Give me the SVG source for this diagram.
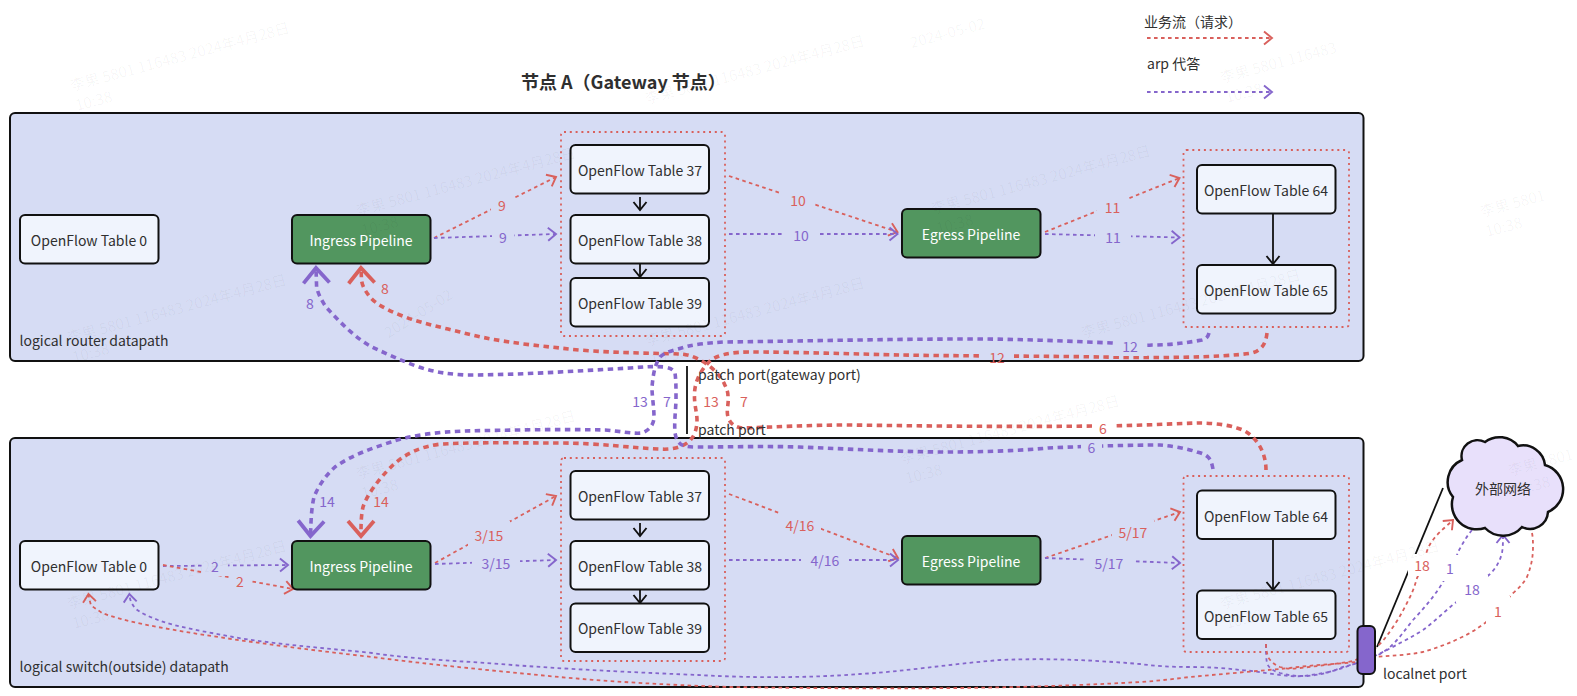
<svg xmlns="http://www.w3.org/2000/svg" width="1577" height="696" viewBox="0 0 1577 696">
<style>
text{font-family:"Noto Sans CJK SC","Noto Sans",sans-serif;font-size:14px;fill:#2f2f2f;dominant-baseline:central}
.m{text-anchor:middle}
.title{font-size:18px;font-weight:700}
.container{fill:#d6dcf4;stroke:#111;stroke-width:2}
.group{fill:none;stroke:#d9605c;stroke-width:1.8;stroke-dasharray:2 3.8}
.node rect{fill:#f0f4fd;stroke:#111;stroke-width:2}
.green rect{fill:#52965f}
.green text{fill:#fff}
.c{fill:none;stroke-linejoin:round}
.r{stroke:#d9605c}.p{stroke:#8566cc}
.thin{stroke-width:1.8;stroke-dasharray:3.6 3.4}
.thick{stroke-width:3.600;stroke-dasharray:5.500 4.500}
.rt{marker-end:url(#ar)}.pt{marker-end:url(#ap)}
.rT{marker-end:url(#aR)}.pT{marker-end:url(#aP)}
.k{fill:none;stroke:#111;stroke-width:1.8}
.ka{marker-end:url(#ak)}
.lr{fill:#d9605c}.lp{fill:#8566cc}
.bb{fill:#d6dcf4}.bw{fill:#fff}
.wm text{fill:#000;fill-opacity:.04;font-size:15px}
</style>
<defs>
<marker id="ar" markerUnits="userSpaceOnUse" markerWidth="14" markerHeight="16" refX="11" refY="8" orient="auto"><path d="M3 1.5L11 8L3 14.500" fill="none" stroke="#d9605c" stroke-width="1.9"/></marker>
<marker id="ap" markerUnits="userSpaceOnUse" markerWidth="14" markerHeight="16" refX="11" refY="8" orient="auto"><path d="M3 1.5L11 8L3 14.500" fill="none" stroke="#8566cc" stroke-width="1.9"/></marker>
<marker id="ak" markerUnits="userSpaceOnUse" markerWidth="14" markerHeight="16" refX="11" refY="8" orient="auto"><path d="M3 1.5L11 8L3 14.500" fill="none" stroke="#111" stroke-width="1.9"/></marker>
<marker id="aR" markerUnits="userSpaceOnUse" markerWidth="24" markerHeight="32" refX="20" refY="16" orient="auto"><path d="M5 3L20 16L5 29" fill="none" stroke="#d9605c" stroke-width="3.800"/></marker>
<marker id="aP" markerUnits="userSpaceOnUse" markerWidth="24" markerHeight="32" refX="20" refY="16" orient="auto"><path d="M5 3L20 16L5 29" fill="none" stroke="#8566cc" stroke-width="3.800"/></marker>
</defs>

<text id="title" class="title" x="521" y="80.500">节点 A（Gateway 节点）</text>
<g id="legend">
<text x="1144" y="21">业务流（请求）</text>
<path class="c r thin rt" d="M1147 38H1272"/>
<text x="1147" y="63">arp 代答</text>
<path class="c p thin pt" d="M1147 92H1272"/>
</g>

<g id="logical-router">
<rect class="container" x="10" y="113" width="1353.500" height="248" rx="5"/>
<text x="19.500" y="340">logical router datapath</text>
<rect class="group" x="561" y="132" width="164" height="204" rx="3"/>
<rect class="group" x="1183.500" y="150" width="165.500" height="177" rx="3"/>
</g>
<g id="logical-switch">
<rect class="container" x="10" y="438" width="1353.500" height="249" rx="5"/>
<text x="19.500" y="666">logical switch(outside) datapath</text>
<rect class="group" x="561" y="458" width="164" height="203" rx="3"/>
<rect class="group" x="1183.500" y="476" width="165.500" height="176" rx="3"/>
</g>

<g id="connectors">
<path class="c r thin rt" d="M434 238L556 177"/>
<path class="c p thin pt" d="M434 238L556 234"/>
<path class="c r thin rt" d="M729 176L897.500 232"/>
<path class="c p thin pt" d="M729 234H897.500"/>
<path class="c r thin rt" d="M1045 232L1179.500 178"/>
<path class="c p thin pt" d="M1045 234L1179.500 237.500"/>
<path class="k ka" d="M640 197V210"/>
<path class="k ka" d="M640 264V277"/>
<path class="k ka" d="M1273 213V264"/>
<path class="c r thick rT" d="M1267 333 C1266 342 1263 350 1252 353 C1220 358 1150 358 1100 357 C1050 356 950 356 900 355 C860 354 790 352 750 352 C730 352 716 355 709 362 C700 371 695 382 694.500 393 C694 405 697 412 697 420 C697 428 695 434 692 438 C686 447 672 450 660 449 C630 448 600 443 559 443 C520 443 480 442 442 444 C420 446 403 455 391 467 C378 480 367 495 363 507 C361 516 361 525 361 536"/>
<path class="c r thick rT" d="M1266 470 C1266 460 1263 450 1257 442 C1252 435 1245 430 1237 428 C1225 424 1210 423 1197 423 C1165 424 1130 426 1097 426 C1010 427 930 426 849 425 C810 425 775 427 744 428 C736 428 730 424 728 417 C726 410 729 404 728 397 C728 390 726 388 724 383 C720 375 710 365 700 360 C693 356 686 354 680 354 C650 353 600 353 560 348 C520 344 490 340 460 332 C440 327 420 323 400 315 C385 309 375 303 370 297 C365 291 362 285 361.500 280 L361 268"/>
<path class="c p thick pT" d="M1209 333 C1208 337 1206 339 1202 340 C1185 343 1170 345 1152 345 C1140 346 1125 344 1112 343 C1065 341 1020 339 973 339 C890 339 810 341 724 342 C708 343 696 344 685 347 C674 350 665 352 660 357 C654 366 653 377 652 387 C652 397 654 407 654 417 C654 424 650 430 642 433 C632 434 620 431 605 430 C560 429 510 430 465 431 C438 432 412 435 391 442 C370 449 350 456 335 467 C325 476 318 487 314 497 C311 510 311 524 310.500 536"/>
<path class="c p thick pT" d="M1213 469 C1212 464 1211 460 1208 457 C1205 454 1201 453 1197 452 C1185 448 1172 446 1160 445 C1135 445 1090 446 1048 448 C1015 451 980 452 948 452 C898 452 850 449 799 447 C765 446 732 447 699 447 C692 447 686 447 682 445 C677 442 676 438 675 433 C674 420 676 410 676 397 C676 388 676 380 675 373 C673 369 670 368 665 367 C652 366 642 367 630 368 C575 371 520 375 465 375 C448 374 433 372 419 367 C402 361 387 354 372 347 C355 338 340 322 326 307 C322 301 318 294 316.600 287 L316 268"/>
<path class="k" d="M687 366V434"/>
<path class="c p thin pt" d="M163 566L288 565"/>
<path class="c r thin rt" d="M163 565L293 589"/>
<path class="c r thin rt" d="M435 563L556 496"/>
<path class="c p thin pt" d="M435 564L556 560"/>
<path class="c r thin rt" d="M729 494L898 558"/>
<path class="c p thin pt" d="M729 560H898"/>
<path class="c r thin rt" d="M1045 558L1180 512"/>
<path class="c p thin pt" d="M1045 558L1180 563"/>
<path class="k ka" d="M640 523V536"/>
<path class="k ka" d="M640 590V603"/>
<path class="k ka" d="M1273 539V590"/>
<path class="k" d="M1377 647L1443 488"/>
<path class="c p thin pt" d="M1472 530 C1466 537 1462 545 1458 552 C1455 562 1449 572 1443 582 C1434 597 1424 608 1413 620 C1405 630 1398 640 1390 647 C1384 652 1379 655 1373 657 C1367 659 1362 661 1357 663 C1345 667 1333 672 1323 673 C1312 675 1300 677 1290 676 C1275 675 1258 671 1240 670 C1225 668 1208 667 1190 667 C1170 667 1155 666 1140 664 C1090 660 1050 658 1000 660 C950 664 900 672 860 674 C810 678 750 678 698 675 C650 673 580 670 512 665 C465 661 420 660 372 653 C325 648 280 645 233 637 C208 632 180 628 158 620 C148 616 140 613 135 608 C131 603 130 600 129.400 594"/>
<path class="c p thin pt" d="M1266 644 C1266 652 1266 658 1267 663 C1269 669 1274 671 1280 673 C1290 676 1298 676 1307 676 C1320 675 1331 672 1340 668 C1346 666 1351 665 1357 663 C1364 660 1371 658 1377 655 C1385 651 1393 647 1400 643 C1408 639 1415 635 1423 630 C1434 622 1444 612 1455 603 C1462 598 1467 593 1472 589 C1478 584 1484 579 1490 574 C1496 568 1500 561 1502 553 C1503 547 1503 541 1503 535"/>
<path class="c r thin rt" d="M1266 644 C1266 649 1267 653 1268 657 C1271 662 1275 665 1280 667 C1287 669 1293 669 1300 668 C1318 666 1336 664 1353 661 C1361 658 1367 654 1373 650 C1381 644 1387 636 1393 627 C1400 617 1405 607 1410 597 C1413 591 1415 585 1417 578 C1419 574 1421 569 1422 565 C1424 559 1426 554 1428 548 C1431 542 1435 537 1440 532 C1444 528 1449 524 1453 520"/>
<path class="c r thin rt" d="M1532 533 C1533 538 1533 542 1533 547 C1533 558 1531 567 1527 577 C1523 584 1518 589 1512 594 C1507 600 1503 605 1498 611 C1494 615 1490 619 1485 623 C1477 629 1469 634 1460 638 C1448 644 1436 648 1423 652 C1407 655 1390 656 1373 657 C1367 659 1362 660 1357 662 C1335 664 1312 665 1290 668 C1257 671 1223 674 1190 677 C1173 679 1157 681 1140 682 C1000 690 865 689 730 687 C670 685 615 682 559 677 C497 671 434 665 372 657 C310 650 248 642 186 632 C157 627 127 622 102 613 C98 610 94 608 91 605 C90 602 89 598 88.500 594"/>
</g>

<g id="connector-labels">
<rect class="bb" x="491" y="193" width="22" height="24"/><text class="m lr" x="502" y="205">9</text>
<rect class="bb" x="492" y="227" width="22" height="20"/><text class="m lp" x="503" y="237">9</text>
<rect class="bb" x="782" y="188" width="32" height="24"/><text class="m lr" x="798" y="200">10</text>
<rect class="bb" x="783" y="225" width="36" height="20"/><text class="m lp" x="801" y="235">10</text>
<rect class="bb" x="1097" y="195" width="31" height="24"/><text class="m lr" x="1112.500" y="207">11</text>
<rect class="bb" x="1095" y="227" width="36" height="20"/><text class="m lp" x="1113" y="237">11</text>
<text class="m lp" x="310" y="303">8</text>
<text class="m lr" x="385" y="288">8</text>
<rect class="bb" x="979" y="349" width="35" height="11"/><text class="m lr" x="997" y="357">12</text>
<rect class="bb" x="1113" y="336" width="34" height="20"/><text class="m lp" x="1130" y="346">12</text>
<text class="m lp" x="640" y="401">13</text>
<text class="m lp" x="667" y="401">7</text>
<text class="m lr" x="711" y="401">13</text>
<text class="m lr" x="744" y="401">7</text>
<rect class="bw" x="1092" y="418" width="22" height="19"/><text class="m lr" x="1103" y="428">6</text>
<rect class="bb" x="1081" y="439" width="21" height="18"/><text class="m lp" x="1091.500" y="447">6</text>
<text class="m lp" x="327" y="501">14</text>
<text class="m lr" x="381" y="501">14</text>
<rect class="bb" x="204" y="556" width="24" height="20"/><text class="m lp" x="215" y="566">2</text>
<rect class="bb" x="229" y="569" width="22" height="24"/><text class="m lr" x="240" y="581">2</text>
<rect class="bb" x="468" y="521" width="42" height="28"/><text class="m lr" x="489" y="535">3/15</text>
<rect class="bb" x="472" y="553" width="48" height="20"/><text class="m lp" x="496" y="563">3/15</text>
<rect class="bb" x="779" y="513" width="42" height="24"/><text class="m lr" x="800" y="525">4/16</text>
<rect class="bb" x="801" y="550" width="48" height="20"/><text class="m lp" x="825" y="560">4/16</text>
<rect class="bb" x="1112" y="520" width="42" height="24"/><text class="m lr" x="1133" y="532">5/17</text>
<rect class="bb" x="1085" y="553" width="48" height="20"/><text class="m lp" x="1109" y="563">5/17</text>
<rect class="bw" x="1408" y="554" width="28" height="22"/><text class="m lr" x="1422" y="565">18</text>
<rect class="bw" x="1440" y="555" width="20" height="26"/><text class="m lp" x="1450" y="568">1</text>
<rect class="bw" x="1456" y="575" width="32" height="28"/><text class="m lp" x="1472" y="589">18</text>
<rect class="bw" x="1486" y="596" width="24" height="28"/><text class="m lr" x="1498" y="611">1</text>
</g>

<g id="r-table0" class="node"><rect x="20" y="215" width="138.500" height="48.500" rx="5"/><text class="m" x="89" y="239.500">OpenFlow Table 0</text></g>
<g id="r-ingress" class="node green"><rect x="292" y="215" width="138.500" height="48.500" rx="5"/><text class="m" x="361" y="239.500">Ingress Pipeline</text></g>
<g id="r-table37" class="node"><rect x="570.500" y="145" width="138.500" height="48.500" rx="5"/><text class="m" x="640" y="169.500">OpenFlow Table 37</text></g>
<g id="r-table38" class="node"><rect x="570.500" y="215" width="138.500" height="48.500" rx="5"/><text class="m" x="640" y="239.500">OpenFlow Table 38</text></g>
<g id="r-table39" class="node"><rect x="570.500" y="278" width="138.500" height="48.500" rx="5"/><text class="m" x="640" y="302.500">OpenFlow Table 39</text></g>
<g id="r-egress" class="node green"><rect x="902" y="209" width="138.500" height="48.500" rx="5"/><text class="m" x="971" y="233.500">Egress Pipeline</text></g>
<g id="r-table64" class="node"><rect x="1197" y="165" width="138.500" height="48.500" rx="5"/><text class="m" x="1266" y="190">OpenFlow Table 64</text></g>
<g id="r-table65" class="node"><rect x="1197" y="265" width="138.500" height="48.500" rx="5"/><text class="m" x="1266" y="290">OpenFlow Table 65</text></g>

<g id="s-table0" class="node"><rect x="20" y="541" width="138.500" height="48.500" rx="5"/><text class="m" x="89" y="565.500">OpenFlow Table 0</text></g>
<g id="s-ingress" class="node green"><rect x="292" y="541" width="138.500" height="48.500" rx="5"/><text class="m" x="361" y="565.500">Ingress Pipeline</text></g>
<g id="s-table37" class="node"><rect x="570.500" y="471" width="138.500" height="48.500" rx="5"/><text class="m" x="640" y="495.500">OpenFlow Table 37</text></g>
<g id="s-table38" class="node"><rect x="570.500" y="541" width="138.500" height="48.500" rx="5"/><text class="m" x="640" y="565.500">OpenFlow Table 38</text></g>
<g id="s-table39" class="node"><rect x="570.500" y="603.500" width="138.500" height="48.500" rx="5"/><text class="m" x="640" y="628">OpenFlow Table 39</text></g>
<g id="s-egress" class="node green"><rect x="902" y="536" width="138.500" height="48.500" rx="5"/><text class="m" x="971" y="560.500">Egress Pipeline</text></g>
<g id="s-table64" class="node"><rect x="1197" y="490.500" width="138.500" height="48.500" rx="5"/><text class="m" x="1266" y="515.500">OpenFlow Table 64</text></g>
<g id="s-table65" class="node"><rect x="1197" y="590.500" width="138.500" height="48.500" rx="5"/><text class="m" x="1266" y="615.500">OpenFlow Table 65</text></g>

<g id="patch-labels">
<text x="698" y="374">patch port(gateway port)</text>
<text x="698" y="429">patch port</text>
</g>
<g id="localnet-port"><rect x="1357.500" y="626" width="17.500" height="48" rx="5" fill="#8566cc" stroke="#111" stroke-width="2"/><text x="1383" y="673">localnet port</text></g>
<g id="external-network">
<path d="M1462 460A16 16 0 0 1 1485 442A24 24 0 0 1 1518 446A22 22 0 0 1 1545 465A25 25 0 0 1 1548 512A18 18 0 0 1 1522 527A25 25 0 0 1 1485 528A25 25 0 0 1 1453 497A24 24 0 0 1 1462 460Z" fill="#e8e0fb" stroke="#111" stroke-width="2.500"/>
<text class="m" x="1503" y="488">外部网络</text>
</g>

<g id="watermark" class="wm">
<text transform="translate(70 85) rotate(-15)">李果 5801 116483 2024年4月28日<tspan x="0" dy="20">10:38</tspan></text>
<text transform="translate(356 210) rotate(-15)">李果 5801 116483 2024年4月28日<tspan x="0" dy="20">10:38</tspan></text>
<text transform="translate(67 337) rotate(-15)">李果 5801 116483 2024年4月28日<tspan x="0" dy="20">10:38</tspan></text>
<text transform="translate(645 98) rotate(-15)">李果 5801 116483 2024年4月28日</text>
<text transform="translate(931 208) rotate(-15)">李果 5801 116483 2024年4月28日<tspan x="0" dy="20">10:38</tspan></text>
<text transform="translate(645 340) rotate(-15)">李果 5801 116483 2024年4月28日<tspan x="0" dy="20">10:38</tspan></text>
<text transform="translate(1081 332) rotate(-15)">李果 5801 116483 2024年4月28日</text>
<text transform="translate(67 603) rotate(-15)">李果 5801 116483 2024年4月28日<tspan x="0" dy="20">10:38</tspan></text>
<text transform="translate(356 473) rotate(-15)">李果 5801 116483 2024年4月28日<tspan x="0" dy="20">10:38</tspan></text>
<text transform="translate(900 458) rotate(-15)">李果 5801 116483 2024年4月28日<tspan x="0" dy="20">10:38</tspan></text>
<text transform="translate(1220 603) rotate(-15)">李果 5801 116483 2024年4月28日<tspan x="0" dy="20">10:38</tspan></text>
<text transform="translate(1508 470) rotate(-15)">李果 5801<tspan x="0" dy="20">10:38</tspan></text>
<text transform="translate(1220 77) rotate(-15)">李果 5801 116483<tspan x="0" dy="20">10:38</tspan></text>
<text transform="translate(1480 211) rotate(-15)">李果 5801<tspan x="0" dy="20">10:38</tspan></text>
<text transform="translate(910 42) rotate(-15)">2024-05-02</text>
<text transform="translate(385 333) rotate(-32)">2024-05-02</text>
</g>
</svg>
